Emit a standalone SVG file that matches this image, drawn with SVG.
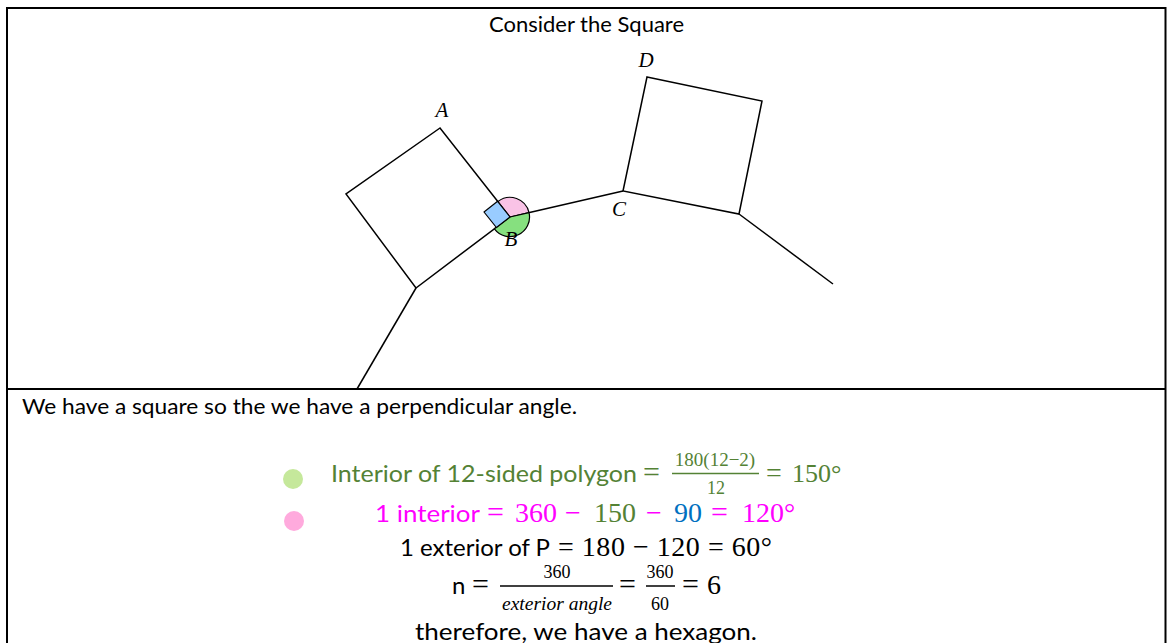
<svg xmlns="http://www.w3.org/2000/svg" width="1167" height="643" viewBox="0 0 1167 643">
<style>
.edge{fill:none;stroke:#000;stroke-width:1.5;stroke-linejoin:miter}
.frame{fill:none;stroke:#000;stroke-width:2}
.mark{stroke:#000;stroke-width:1.2;stroke-linejoin:round}
.lbl{font-family:"Liberation Serif",serif;font-style:italic;font-size:21px;fill:#000;text-anchor:middle}
.cal{font-family:Lato,"Open Sans",sans-serif;font-weight:400}
.math{font-family:"Liberation Serif",serif}
.g{fill:#548235}
.m{fill:#FF00FF}
.b{fill:#0070C0}
.k{fill:#000}
</style>
<rect width="1167" height="643" fill="#fff"/>
<g id="table">
<line class="frame" x1="6" y1="8" x2="1166" y2="8"/>
<line class="frame" x1="7" y1="7" x2="7" y2="643"/>
<line class="frame" x1="1165.5" y1="7" x2="1165.5" y2="643"/>
<line class="frame" x1="6" y1="389" x2="1166" y2="389"/>
</g>
<text class="cal k" x="489" y="32" font-size="21" textLength="195" lengthAdjust="spacingAndGlyphs">Consider the Square</text>
<g id="polygon-edges">
<polyline class="edge" points="357,389 416,288"/>
<polyline class="edge" points="510,217 623,191"/>
<polyline class="edge" points="739,214 833,284"/>
</g>
<g id="square1">
<polygon class="edge" points="440,128 346,194 416,288 510,217"/>
</g>
<g id="square2">
<polygon class="edge" points="647,77 762,101 739,214 623,191"/>
</g>
<g id="angle-marks">
<path class="mark" fill="#F9C3E6" d="M510,217 L498,201.5 A19.5,19.5 0 0 1 529,212.6 Z"/>
<path class="mark" fill="#86E07F" d="M510,217 L529,212.6 A19.5,19.5 0 0 1 494.4,228.8 Z"/>
<path class="mark" fill="#99CCFF" d="M510,217 L497.6,201.3 L484,212 L496.4,227.5 Z"/>
</g>
<g id="labels">
<text class="lbl" x="442" y="117">A</text>
<text class="lbl" x="511" y="246">B</text>
<text class="lbl" x="619" y="216">C</text>
<text class="lbl" x="646" y="67">D</text>
</g>
<text class="cal k" x="22" y="414" font-size="21" textLength="555" lengthAdjust="spacingAndGlyphs">We have a square so the we have a perpendicular angle.</text>
<g id="bullets">
<circle cx="293" cy="479" r="10" fill="#C5E89B"/>
<circle cx="294" cy="521" r="10" fill="#FFAADD"/>
</g>
<g id="line1">
<text class="cal g" x="331" y="482" font-size="24" textLength="306" lengthAdjust="spacingAndGlyphs">Interior of 12-sided polygon</text>
<text class="math g" x="643" y="482" font-size="30">=</text>
<text class="math g" x="715" y="466" font-size="19" text-anchor="middle">180(12−2)</text>
<line x1="672" y1="473.5" x2="759" y2="473.5" stroke="#548235" stroke-width="1.5"/>
<text class="math g" x="716" y="494" font-size="18" text-anchor="middle">12</text>
<text class="math g" x="766" y="482" font-size="28">=</text>
<text class="math g" x="792" y="482" font-size="26">150°</text>
</g>
<g id="line2">
<text class="cal m" x="375" y="522" font-size="24" textLength="105" lengthAdjust="spacingAndGlyphs">1 interior</text>
<text class="math m" x="487" y="522" font-size="30">=</text>
<text class="math m" x="515" y="522" font-size="28">360</text>
<text class="math m" x="565" y="522" font-size="28">−</text>
<text class="math g" x="594" y="522" font-size="28">150</text>
<text class="math m" x="646" y="522" font-size="28">−</text>
<text class="math b" x="674" y="522" font-size="28">90</text>
<text class="math m" x="711" y="522" font-size="30">=</text>
<text class="math m" x="742" y="522" font-size="28">120°</text>
</g>
<g id="line3">
<text class="cal k" x="400" y="556" font-size="24" textLength="150" lengthAdjust="spacingAndGlyphs">1 exterior of P</text>
<text class="math k" x="558" y="556" font-size="28" textLength="214" lengthAdjust="spacing">= 180 − 120 = 60°</text>
</g>
<g id="line4">
<text class="cal k" x="452" y="594" font-size="24">n</text>
<text class="math k" x="472" y="594" font-size="30">=</text>
<text class="math k" x="557" y="578" font-size="18" text-anchor="middle">360</text>
<line x1="500" y1="586" x2="613" y2="586" stroke="#000" stroke-width="1.5"/>
<text class="math k" x="557" y="610" font-size="18" font-style="italic" text-anchor="middle" textLength="110" lengthAdjust="spacingAndGlyphs">exterior angle</text>
<text class="math k" x="619" y="594" font-size="30">=</text>
<text class="math k" x="660" y="578" font-size="18" text-anchor="middle">360</text>
<line x1="646" y1="586" x2="675" y2="586" stroke="#000" stroke-width="1.5"/>
<text class="math k" x="660" y="610" font-size="18" text-anchor="middle">60</text>
<text class="math k" x="682" y="594" font-size="30">=</text>
<text class="math k" x="707" y="594" font-size="28">6</text>
</g>
<text class="cal k" x="415" y="640" font-size="24" textLength="342" lengthAdjust="spacingAndGlyphs">therefore, we have a hexagon.</text>
</svg>
